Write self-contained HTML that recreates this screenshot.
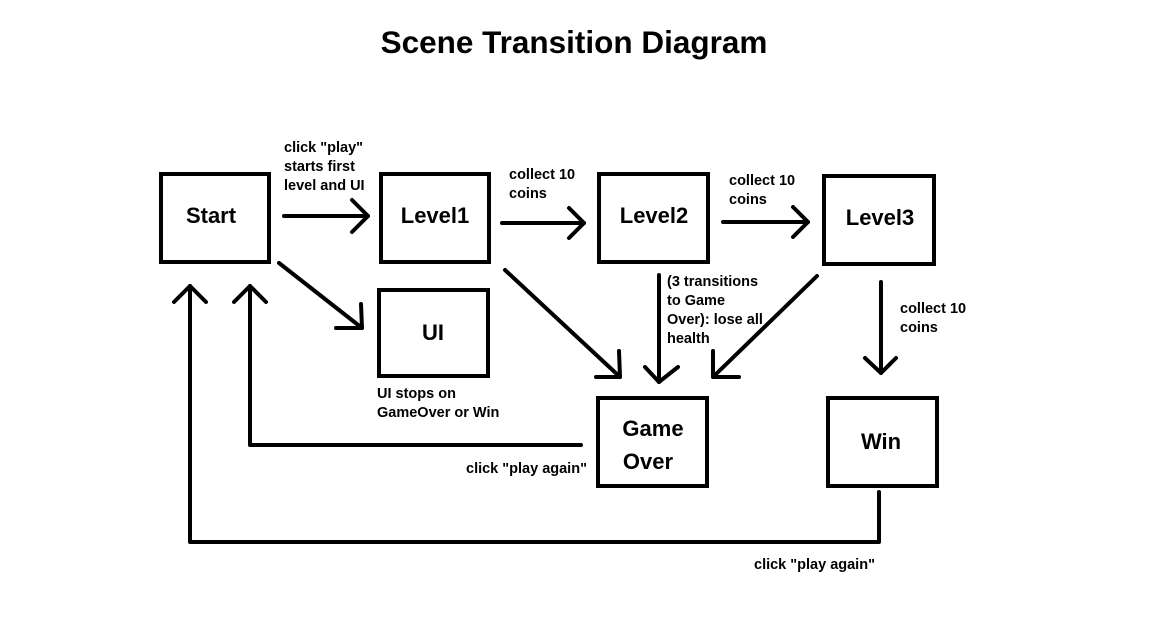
<!DOCTYPE html>
<html><head><meta charset="utf-8"><style>
html,body{margin:0;padding:0;background:#fff;width:1152px;height:625px;overflow:hidden}
svg text{font-family:"Liberation Sans",sans-serif;font-weight:bold;fill:#000}
</style></head><body>
<svg width="1152" height="625" viewBox="0 0 1152 625" xmlns="http://www.w3.org/2000/svg">
<text x="574" y="53" font-size="31.5" text-anchor="middle">Scene Transition Diagram</text>
<g fill="none" stroke="#000" stroke-width="4">
<rect x="161" y="174" width="108" height="88"/>
<rect x="381" y="174" width="108" height="88"/>
<rect x="599" y="174" width="109" height="88"/>
<rect x="824" y="176" width="110" height="88"/>
<rect x="379" y="290" width="109" height="86"/>
<rect x="598" y="398" width="109" height="88"/>
<rect x="828" y="398" width="109" height="88"/>
</g>
<g fill="none" stroke="#000" stroke-width="4" stroke-linecap="round" stroke-linejoin="round">
<line x1="284" y1="216" x2="368" y2="216"/><polyline points="352,200 368,216 352,232"/>
<line x1="502" y1="223" x2="584" y2="223"/><polyline points="569,208 584,223 569,238"/>
<line x1="723" y1="222" x2="808" y2="222"/><polyline points="793,207 808,222 793,237"/>
<line x1="279" y1="263" x2="362" y2="328"/><polyline points="361,304 362,328 336,328"/>
<line x1="505" y1="270" x2="620" y2="377"/><polyline points="619,351 620,377 596,377"/>
<line x1="659" y1="275" x2="659" y2="382"/><polyline points="645,367 659,382 678,367"/>
<line x1="817" y1="276" x2="713" y2="377"/><polyline points="713,351 713,377 739,377"/>
<line x1="881" y1="282" x2="881" y2="373"/><polyline points="865,358 881,373 896,358"/>
<polyline points="581,445 250,445 250,286"/><polyline points="234,302 250,286 266,302"/>
<polyline points="879,492 879,542 190,542 190,286"/><polyline points="174,302 190,286 206,302"/>
</g>
<g font-size="22" text-anchor="middle">
<text x="211" y="223">Start</text>
<text x="435" y="223">Level1</text>
<text x="654" y="223">Level2</text>
<text x="880" y="225">Level3</text>
<text x="433" y="340">UI</text>
<text x="653" y="436">Game</text>
<text x="648" y="469">Over</text>
<text x="881" y="449">Win</text>
</g>
<g font-size="14.5">
<text x="284" y="152">click "play"</text>
<text x="284" y="171">starts first</text>
<text x="284" y="190">level and UI</text>
<text x="509" y="179">collect 10</text>
<text x="509" y="198">coins</text>
<text x="729" y="185">collect 10</text>
<text x="729" y="204">coins</text>
<text x="667" y="286">(3 transitions</text>
<text x="667" y="305">to Game</text>
<text x="667" y="324">Over): lose all</text>
<text x="667" y="343">health</text>
<text x="900" y="313">collect 10</text>
<text x="900" y="332">coins</text>
<text x="377" y="398">UI stops on</text>
<text x="377" y="417">GameOver or Win</text>
<text x="466" y="473">click "play again"</text>
<text x="754" y="569">click "play again"</text>
</g>
</svg>
</body></html>
